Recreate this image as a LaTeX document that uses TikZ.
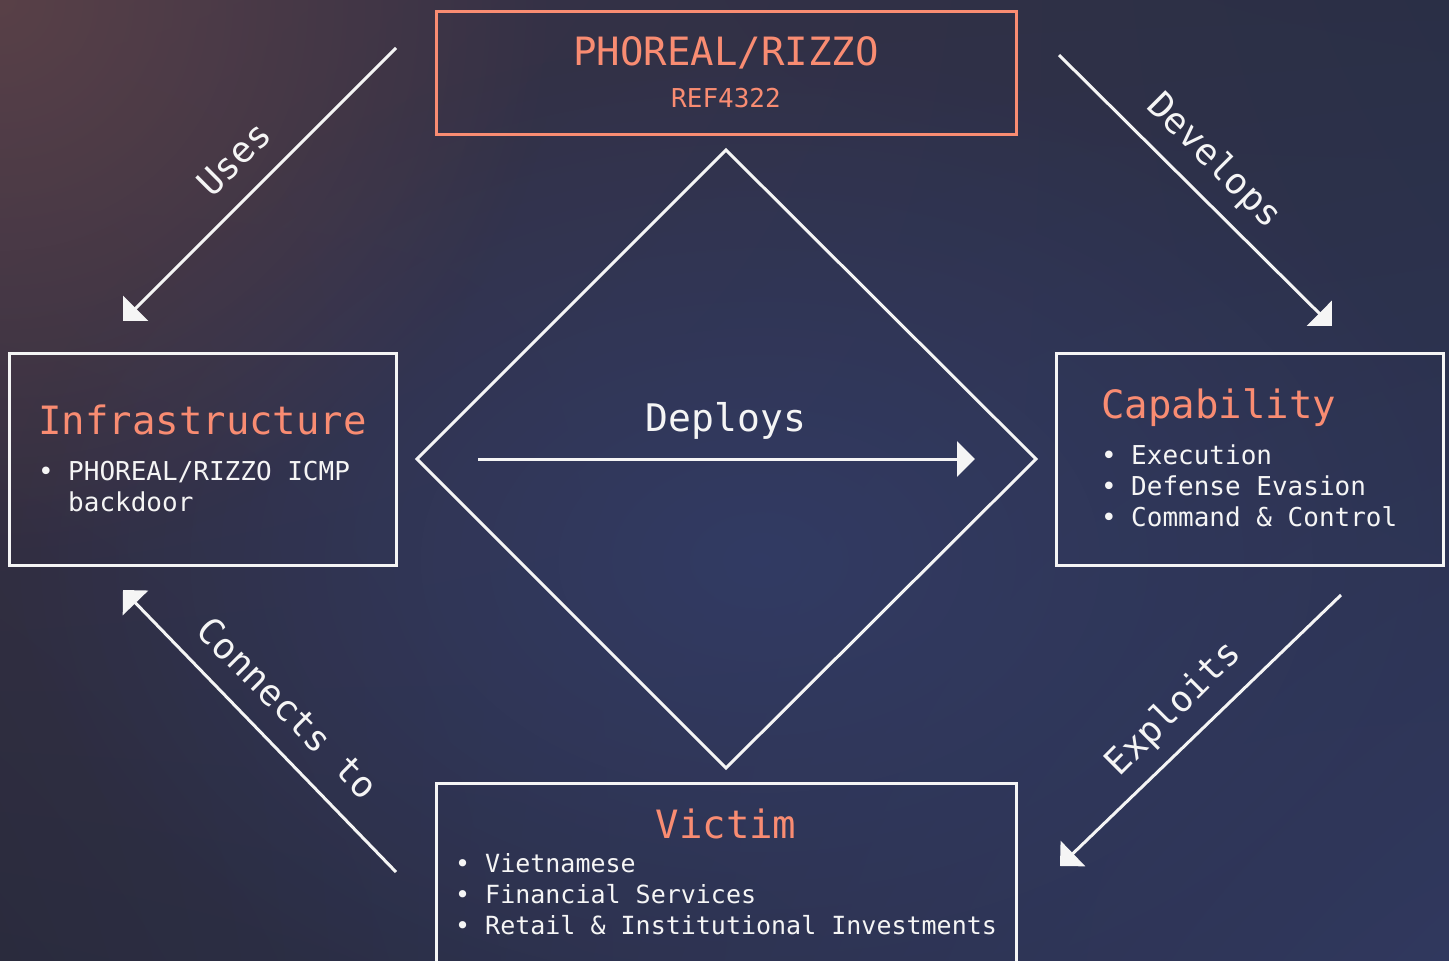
\documentclass[tikz,border=0pt]{standalone}
\usepackage{fontspec}
\setmainfont{DejaVu Sans Mono}
\usetikzlibrary{arrows.meta,shadings,fadings}
\definecolor{salmon}{HTML}{F98C72}
\definecolor{fg}{HTML}{F5F5F5}
\definecolor{cUL}{HTML}{3A3246}
\definecolor{cUR}{HTML}{2A2F46}
\definecolor{cLL}{HTML}{2A2B3D}
\definecolor{cLR}{HTML}{30385E}
\definecolor{glowblue}{HTML}{323C66}
\definecolor{glowbrown}{HTML}{5C4248}
\tikzfading[name=glowfade, inner color=transparent!0, outer color=transparent!100]
\tikzset{
  box/.style={draw=fg, line width=3pt, minimum width=#1, inner sep=0pt},
  topbox/.style={draw=salmon, line width=3pt, inner sep=0pt},
  ttl/.style={text=salmon, font=\fontsize{39}{39}\selectfont, inner sep=0pt},
  sub/.style={text=salmon, font=\fontsize{26}{26}\selectfont, inner sep=0pt},
  item/.style={text=fg, font=\fontsize{26}{26}\selectfont, inner sep=0pt, anchor=base west},
  vitem/.style={text=fg, font=\fontsize{25}{25}\selectfont, inner sep=0pt, anchor=base west},
  conn/.style={draw=fg, line width=3pt, -{Triangle[length=18pt,width=35pt]}},
  elabel/.style={text=fg, font=\fontsize{36}{36}\selectfont, text height=27pt, text depth=9pt, inner xsep=0pt, inner ysep=13pt, anchor=south},
}
\begin{document}
\begin{tikzpicture}[x=1pt,y=-1pt]
\useasboundingbox (0,0) rectangle (1449,961);
\shade[upper left=cUL, upper right=cUR, lower left=cLL, lower right=cLR] (0,0) rectangle (1449,961);
\begin{scope}
\clip (0,0) rectangle (1449,961);
\fill[glowblue, path fading=glowfade, opacity=0.9] (760,560) ellipse [x radius=760pt, y radius=520pt];
\fill[glowbrown, path fading=glowfade, opacity=0.9] (0,0) ellipse [x radius=560pt, y radius=560pt];
\end{scope}
% boxes
\node[topbox, minimum width=580pt, minimum height=123pt] (actor) at (726,72.5) {};
\node[box=387pt, minimum height=212pt] (infra) at (202.5,459) {};
\node[box=387pt, minimum height=212pt] (cap) at (1249.5,459) {};
\node[box=580pt, minimum height=200pt] (victim) at (726,883) {};
% top box text
\node[ttl, anchor=base] (actorT) at (726,65) {PHOREAL/RIZZO};
\node[sub, anchor=base] (actorS) at (726,107) {REF4322};
% infrastructure text
\node[ttl, anchor=base west] (infraT) at (38,434) {Infrastructure};
\node[item] (infraB) at (38,480) {•};
\node[item] (infra1) at (68,480) {PHOREAL/RIZZO ICMP};
\node[item] (infra2) at (68,511) {backdoor};
% capability text
\node[ttl, anchor=base west] (capT) at (1101,418) {Capability};
\node[item] (capB1) at (1101,464) {•};
\node[item] (cap1) at (1131,464) {Execution};
\node[item] (capB2) at (1101,495) {•};
\node[item] (cap2) at (1131,495) {Defense Evasion};
\node[item] (capB3) at (1101,526) {•};
\node[item] (cap3) at (1131,526) {Command \& Control};
% victim text
\node[ttl, anchor=base] (vicT) at (726,838) {Victim};
\node[vitem] (vicB1) at (455,872) {•};
\node[vitem] (vic1) at (485,872) {Vietnamese};
\node[vitem] (vicB2) at (455,903) {•};
\node[vitem] (vic2) at (485,903) {Financial Services};
\node[vitem] (vicB3) at (455,934) {•};
\node[vitem] (vic3) at (485,934) {Retail \& Institutional Investments};
% diamond
\coordinate (dT) at (726,150);
\coordinate (dR) at (1036,459);
\coordinate (dB) at (726,768);
\coordinate (dL) at (417,459);
\draw[fg, line width=3pt, line join=miter] (dT) -- (dR) -- (dB) -- (dL) -- cycle;
% deploys
\node[text=fg, font=\fontsize{38}{38}\selectfont, inner sep=0pt, anchor=base] (deployT) at (726,431) {Deploys};
\coordinate (depS) at (478,459);
\coordinate (depE) at (975,459);
\draw[conn] (depS) -- (depE);
% edge endpoints
\coordinate (usesS) at (396,48);
\coordinate (usesE) at (123,321);
\coordinate (devS) at (1059,55);
\coordinate (devE) at (1332,326);
\coordinate (expS) at (1341,595);
\coordinate (expE) at (1060,866);
\coordinate (conS) at (396,872);
\coordinate (conE) at (123,590);
\draw[conn] (usesS) -- node[elabel, midway, rotate=45] (usesL) {Uses} (usesE);
\draw[conn] (devS) -- node[elabel, pos=0.48, rotate=-45] (devL) {Develops} (devE);
\draw[conn] (expS) -- node[elabel, pos=0.51, rotate=45] (expL) {Exploits} (expE);
\draw[conn] (conS) -- node[elabel, pos=0.49, rotate=-45] (conL) {Connects to} (conE);
\end{tikzpicture}
\end{document}
